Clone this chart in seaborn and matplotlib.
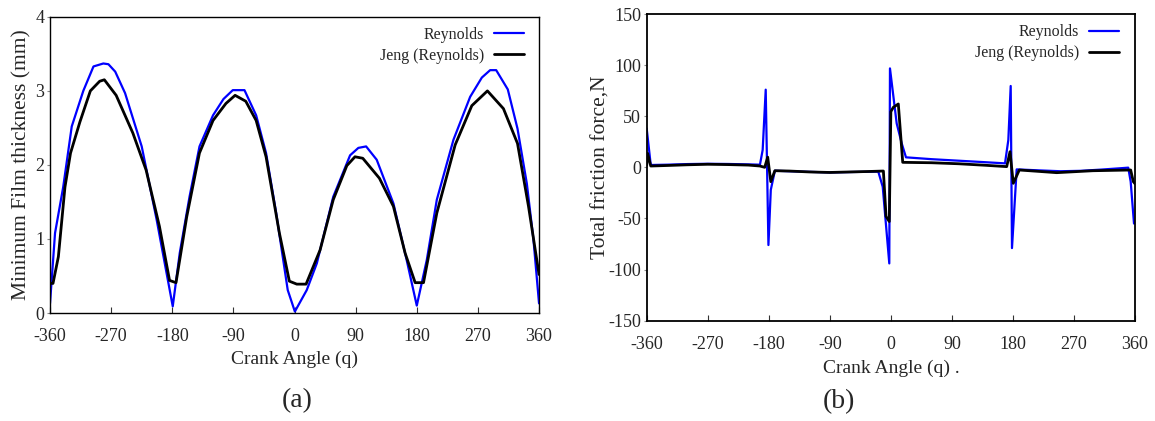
import numpy as np
import pandas as pd
import matplotlib
matplotlib.use("Agg")
import matplotlib.pyplot as plt
import seaborn as sns

sns.set_theme(style="white")
plt.rcParams['font.family'] = ['Liberation Serif', 'DejaVu Serif']
plt.rcParams['axes.unicode_minus'] = False

# (a) minimum film thickness, knots
ang_rey_h = [-360, -352.6, -340.6, -328, -311, -296, -281.5, -274, -264, -249.5, -225, -203,
             -179.3, -169, -154.6, -139.9, -120, -104.6, -90.9, -73.7, -56.5, -41.9, -27, -10,
             0.5, 18, 32.8, 57, 81.8, 94, 105.4, 121, 145.6, 165, 180, 194.8, 209.5, 234,
             258.6, 275.8, 288, 296.9, 314, 328.3, 342, 351.8, 360]
h_rey = [0.13, 1.08, 1.7, 2.52, 3.0, 3.33, 3.37, 3.36, 3.26, 2.97, 2.25, 1.26,
         0.09, 0.81, 1.57, 2.25, 2.67, 2.89, 3.01, 3.01, 2.67, 2.16, 1.35, 0.31,
         0.02, 0.31, 0.67, 1.57, 2.13, 2.23, 2.25, 2.07, 1.48, 0.72, 0.1, 0.72, 1.53, 2.34,
         2.92, 3.18, 3.28, 3.28, 3.02, 2.49, 1.75, 0.99, 0.13]

ang_jeng_h = [-360, -355.6, -347.7, -338, -329.8, -316, -300.6, -286.9, -280, -262.6, -238,
              -218.5, -198.9, -184, -174.5, -158.7, -140, -120, -101, -87.5, -71.8, -56.5,
              -41.9, -22.3, -7.6, 3.3, 17, 37.6, 57, 77, 89, 100.5, 125, 145.6, 162.8, 177.6,
              189.9, 209.5, 236.5, 261, 284, 307.6, 328.3, 344.5, 360]
h_jeng = [0.40, 0.40, 0.76, 1.7, 2.16, 2.58, 3.0, 3.13, 3.15, 2.94, 2.43,
          1.93, 1.17, 0.44, 0.41, 1.30, 2.16, 2.6, 2.83, 2.94, 2.86, 2.6,
          2.11, 1.08, 0.43, 0.39, 0.39, 0.85, 1.53, 1.99, 2.11, 2.09, 1.82, 1.44, 0.81, 0.41,
          0.41, 1.35, 2.27, 2.8, 3.0, 2.76, 2.29, 1.44, 0.52]

# (b) total friction force
ang_rey_f = [-360, -354, -330, -300, -270, -240, -210, -193, -189, -184.5, -180.5, -177, -171,
             -150, -120, -90, -60, -30, -18.5, -12, -2.3, -1.3, 8.6, 16, 22.3, 60, 100, 140,
             168.3, 173.2, 176.7, 178.6, 185.5, 220, 250, 280, 310, 340, 350, 353.6, 358.5]
f_rey = [38, 2.3, 2.6, 3.2, 3.5, 3.3, 2.9, 2.6, 17, 76, -76, -22, -3.3,
         -3.8, -4.4, -5, -4.6, -4.3, -4.2, -19, -94, 96.8, 43, 23.5, 9.8, 8, 6.5, 5,
         3.9, 26.7, 79.6, -79, -2, -3, -3.8, -3.4, -2.2, -0.8, -0.3, -14, -55]

ang_jeng_f = [-360, -358.6, -354, -330, -300, -270, -240, -210, -193, -186, -181.6, -177, -171,
              -150, -120, -90, -60, -30, -11, -7.1, -2.3, 0, 3.6, 11, 17.5, 60, 100, 140,
              170.8, 175.7, 180.5, 189.4, 244.5, 298, 353.6, 357.5, 360]
f_jeng = [2, 13.7, 1.3, 1.8, 2.5, 3, 2.7, 2.2, 1.3, 0, 10, -14, -3.3,
          -3.6, -4.5, -5, -4.5, -4, -3.6, -48, -53, 54.5, 58.7, 62, 4.9, 4.5, 3.5, 2,
          0.7, 15.3, -15.6, -2.6, -5.2, -3.3, -2.6, -14, -16]

xticks = [-360, -270, -180, -90, 0, 90, 180, 270, 360]

rey = pd.DataFrame({'ang': ang_rey_h, 'val': h_rey})
jeng = pd.DataFrame({'ang': ang_jeng_h, 'val': h_jeng})
rey_f = pd.DataFrame({'ang': ang_rey_f, 'val': f_rey})
jeng_f = pd.DataFrame({'ang': ang_jeng_f, 'val': f_jeng})

fig = plt.figure(figsize=(11.55, 4.21), dpi=100)
ax1 = fig.add_axes([0.0433, 0.2565, 0.4234, 0.7035])
ax2 = fig.add_axes([0.5599, 0.2383, 0.4228, 0.7284])

for ax, r, j, lw_frame in [(ax1, rey, jeng, 1.0), (ax2, rey_f, jeng_f, 1.3)]:
    sns.lineplot(data=r, x='ang', y='val', sort=False, color='#0000ff', lw=1.6,
                 label='Reynolds', ax=ax, legend=False)
    sns.lineplot(data=j, x='ang', y='val', sort=False, color='black', lw=2.0,
                 label='Jeng (Reynolds)', ax=ax, legend=False)
    ax.set_xlim(-360, 360)
    ax.set_xticks(xticks)
    ax.set_xticklabels([str(t) for t in xticks])
    for s in ax.spines.values():
        s.set_color('black')
        s.set_linewidth(lw_frame)
    ax.tick_params(axis='x', direction='in', length=4, width=0.8, color='#333333',
                   pad=11, labelsize=13, bottom=True)
    ax.tick_params(axis='y', direction='out', length=2.5, width=0.8, color='#888888',
                   pad=1.5, labelsize=13, left=True)

ax1.set_ylim(0, 4)
ax1.set_yticks([0, 1, 2, 3, 4])
ax1.set_xlabel('Crank Angle (q)', fontsize=14, labelpad=4)
ax1.set_ylabel('Minimum Film thickness (mm)', fontsize=15.5, labelpad=3)

ax2.set_ylim(-150, 150)
ax2.set_yticks([-150, -100, -50, 0, 50, 100, 150])
ax2.set_xlabel('Crank Angle (q) .', fontsize=14, labelpad=5)
ax2.set_ylabel('Total friction force,N', fontsize=15.5, labelpad=-2)

ax1.legend(loc='upper right', bbox_to_anchor=(0.983, 0.988), frameon=False,
           markerfirst=False, fontsize=11.5, handlelength=1.9, handletextpad=0.6,
           labelspacing=0.3, borderaxespad=0)
ax2.legend(loc='upper right', bbox_to_anchor=(0.981, 0.987), frameon=False,
           markerfirst=False, fontsize=11.5, handlelength=1.9, handletextpad=0.6,
           labelspacing=0.3, borderaxespad=0)

fig.text(297 / 1155, 1 - 401 / 421, '(a)', fontsize=20, ha='center', va='center')
fig.text(839 / 1155, 1 - 402 / 421, '(b)', fontsize=20, ha='center', va='center')

fig.savefig('out.png', dpi=100)
